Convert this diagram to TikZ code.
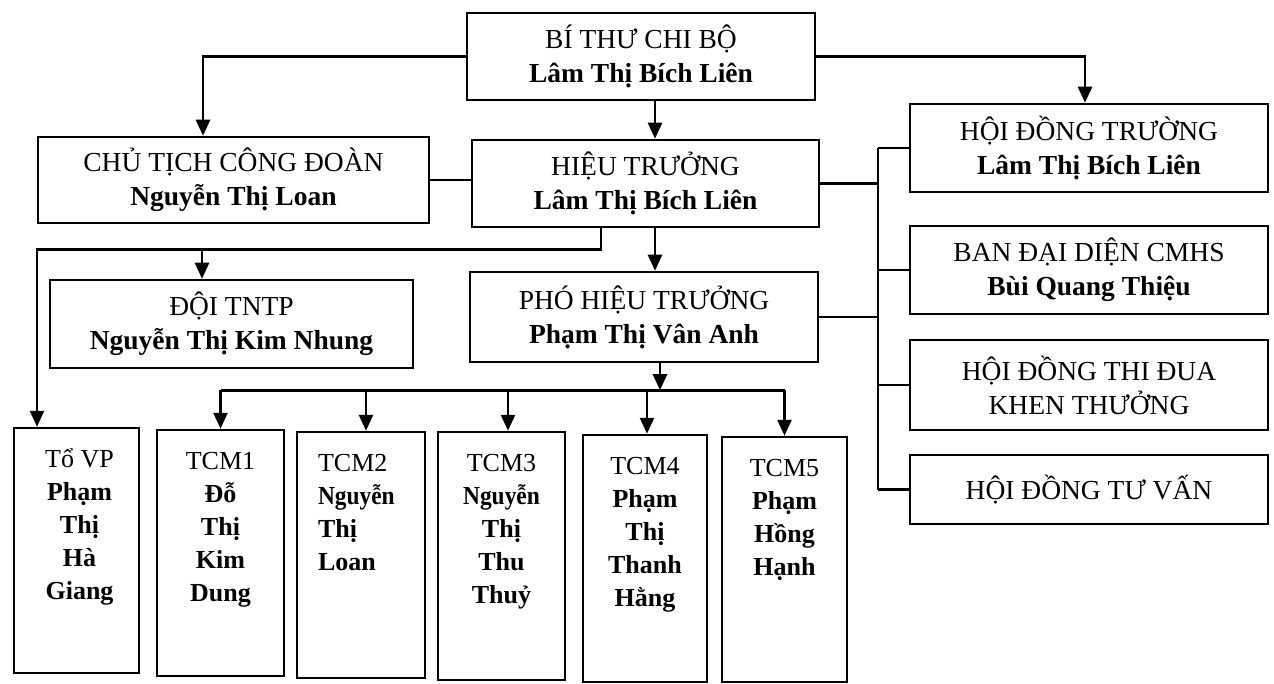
\documentclass[tikz,border=0pt]{standalone}
\usepackage{fontspec}
\usepackage{graphicx}
\setmainfont{Liberation Serif}
\usetikzlibrary{arrows.meta}
\begin{document}
\begin{tikzpicture}[x=1pt,y=-1pt,
  line width=2.6pt,
  box/.style={draw, line width=2.5pt, inner sep=0pt, align=center, font=\fontsize{27.5}{34}\selectfont},
  col/.style={draw, line width=2.5pt, inner sep=0pt},
  ctext/.style={inner sep=0pt, align=center, anchor=north, font=\fontsize{26}{33}\selectfont},
  arr/.style={-{Triangle[length=16pt,width=14pt]}}]
\useasboundingbox[fill=white] (0,0) rectangle (1274,684);
\newcommand\fs{\rule{0pt}{26pt}}
\newcommand\cNg{\scalebox{0.9}[1]{\textbf{Nguyễn}}}
% upper boxes
\node[box, minimum width=348pt, minimum height=87pt] (BT) at (641,56.5) {BÍ THƯ CHI BỘ\\\textbf{Lâm Thị Bích Liên}};
\node[box, minimum width=391pt, minimum height=86pt] (CT) at (233.5,180) {CHỦ TỊCH CÔNG ĐOÀN\\\textbf{Nguyễn Thị Loan}};
\node[box, minimum width=347pt, minimum height=87pt] (HT) at (645.5,183.5) {HIỆU TRƯỞNG\\\textbf{Lâm Thị Bích Liên}};
\node[box, minimum width=363pt, minimum height=88pt] (DOI) at (231.5,324) {ĐỘI TNTP\\\textbf{Nguyễn Thị Kim Nhung}};
\node[box, minimum width=348pt, minimum height=90pt] (PHT) at (644,317) {PHÓ HIỆU TRƯỞNG\\\textbf{Phạm Thị Vân Anh}};
% right boxes
\node[box, minimum width=358pt, minimum height=88pt] (HDT) at (1089,148) {HỘI ĐỒNG TRƯỜNG\\\textbf{Lâm Thị Bích Liên}};
\node[box, minimum width=358pt, minimum height=88pt] (BAN) at (1089,270) {BAN ĐẠI DIỆN CMHS\\\textbf{Bùi Quang Thiệu}};
\node[box, minimum width=358pt, minimum height=90pt] (HDTD) at (1089,385) {HỘI ĐỒNG THI ĐUA\\KHEN THƯỞNG};
\node[box, minimum width=358pt, minimum height=69pt] (HDTV) at (1089,489.5) {HỘI ĐỒNG TƯ VẤN};
% bottom boxes
\node[col, minimum width=125pt, minimum height=245pt] (VP) at (76.5,550.5) {};
\node[col, minimum width=127pt, minimum height=246pt] (T1) at (220.5,553) {};
\node[col, minimum width=128pt, minimum height=246pt] (T2) at (361,555) {};
\node[col, minimum width=127pt, minimum height=248pt] (T3) at (501.5,556) {};
\node[col, minimum width=124pt, minimum height=247pt] (T4) at (645,558.5) {};
\node[col, minimum width=125pt, minimum height=245pt] (T5) at (784.5,559.5) {};
\node[ctext] (VPt) at ([xshift=3pt,yshift=-13pt]VP.north) {\fs Tổ VP\\\textbf{Phạm}\\\textbf{Thị}\\\textbf{Hà}\\\textbf{Giang}};
\node[ctext] (T1t) at ([yshift=-13pt]T1.north) {\fs TCM1\\\textbf{Đỗ}\\\textbf{Thị}\\\textbf{Kim}\\\textbf{Dung}};
\node[ctext, align=left, anchor=north west] (T2t) at ([xshift=21pt,yshift=-13pt]T2.north west) {\fs TCM2\\\cNg\\\textbf{Thị}\\\textbf{Loan}};
\node[ctext] (T3t) at ([yshift=-13pt]T3.north) {\fs TCM3\\\cNg\\\textbf{Thị}\\\textbf{Thu}\\\textbf{Thuỷ}};
\node[ctext] (T4t) at ([yshift=-13pt]T4.north) {\fs TCM4\\\textbf{Phạm}\\\textbf{Thị}\\\textbf{Thanh}\\\textbf{Hằng}};
\node[ctext] (T5t) at ([yshift=-13pt]T5.north) {\fs TCM5\\\textbf{Phạm}\\\textbf{Hồng}\\\textbf{Hạnh}};
% connectors from BT
\draw[arr] (BT.west) -| ([xshift=-30.5pt]CT.north);
\draw[arr] (BT.east) -| ([xshift=-4pt]HDT.north);
\draw[arr] ([xshift=14pt]BT.south) -- ([xshift=14pt]BT.south |- HT.north);
\draw (CT.east) -- (CT.east -| HT.west);
% right bus
\coordinate (bx) at (878,0);
\draw (HDT.west -| bx) -- (HDTV.west -| bx);
\draw (HT.east) -- (HT.east -| bx);
\draw (PHT.east) -- (PHT.east -| bx);
\draw (HDT.west -| bx) -- (HDT.west);
\draw (BAN.west -| bx) -- (BAN.west);
\draw (HDTD.west -| bx) -- (HDTD.west);
\draw (HDTV.west -| bx) -- (HDTV.west);
% from HT
\draw[arr] ([xshift=-44.5pt]HT.south) -- ++(0,21) coordinate (h1) -| ([xshift=-39.5pt]VP.north);
\draw[arr] ([xshift=-29.5pt]DOI.north |- h1) -- ([xshift=-29.5pt]DOI.north);
\draw[arr] ([xshift=9.5pt]HT.south) -- ([xshift=9.5pt]HT.south |- PHT.north);
% from PHT
\draw[arr] ([xshift=16pt]PHT.south) -- ++(0,27) coordinate (h2);
\draw (T1.north |- h2) -- (T5.north |- h2);
\draw[arr] (T1.north |- h2) -- (T1.north);
\draw[arr] ([xshift=5pt]T2.north |- h2) -- ([xshift=5pt]T2.north);
\draw[arr] ([xshift=6.5pt]T3.north |- h2) -- ([xshift=6.5pt]T3.north);
\draw[arr] ([xshift=2pt]T4.north |- h2) -- ([xshift=2pt]T4.north);
\draw[arr] (T5.north |- h2) -- (T5.north);
\end{tikzpicture}
\end{document}
